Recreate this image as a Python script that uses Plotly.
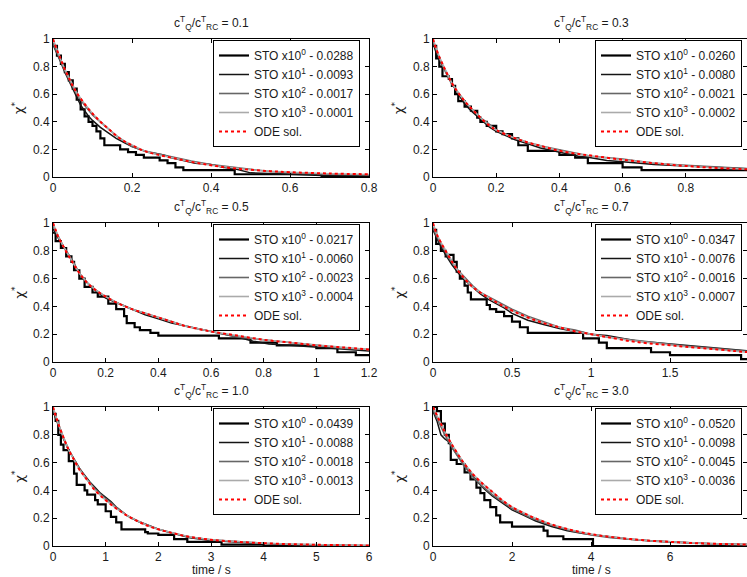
import plotly.graph_objects as go

W, H = 747, 577

# ---------------- data ----------------
RATIOS = ["0.1", "0.3", "0.5", "0.7", "1.0", "3.0"]
XMAX = [0.8, 1.0, 1.2, 2.0, 6.0, 8.0]
XTICKS = [[0, 0.2, 0.4, 0.6, 0.8], [0, 0.2, 0.4, 0.6, 0.8],
          [0, 0.2, 0.4, 0.6, 0.8, 1.0, 1.2], [0, 0.5, 1.0, 1.5],
          [0, 1, 2, 3, 4, 5, 6], [0, 2, 4, 6]]
XTICKTEXT = [["0", "0.2", "0.4", "0.6", "0.8"], ["0", "0.2", "0.4", "0.6", "0.8"],
             ["0", "0.2", "0.4", "0.6", "0.8", "1", "1.2"], ["0", "0.5", "1", "1.5"],
             ["0", "1", "2", "3", "4", "5", "6"], ["0", "2", "4", "6"]]
YTICKS = [0, 0.2, 0.4, 0.6, 0.8, 1.0]
YTICKTEXT = ["0", "0.2", "0.4", "0.6", "0.8", "1"]
ERRORS = [["0.0288", "0.0093", "0.0017", "0.0001"],
          ["0.0260", "0.0080", "0.0021", "0.0002"],
          ["0.0217", "0.0060", "0.0023", "0.0004"],
          ["0.0347", "0.0076", "0.0016", "0.0007"],
          ["0.0439", "0.0088", "0.0018", "0.0013"],
          ["0.0520", "0.0098", "0.0045", "0.0036"]]

# panel 1 (0.1)
P1_T = [0, 0.01, 0.02, 0.03, 0.04, 0.05, 0.06, 0.08, 0.10, 0.12, 0.14, 0.16, 0.18, 0.20, 0.23, 0.26, 0.30, 0.35, 0.40, 0.45, 0.50, 0.55, 0.60, 0.70, 0.80]
P1_ODE = [1.00, 0.92, 0.85, 0.78, 0.72, 0.66, 0.61, 0.53, 0.46, 0.40, 0.35, 0.30, 0.26, 0.23, 0.19, 0.165, 0.14, 0.11, 0.085, 0.065, 0.052, 0.042, 0.035, 0.025, 0.02]
P1_S3 = [1.00, 0.92, 0.85, 0.78, 0.72, 0.66, 0.61, 0.53, 0.46, 0.40, 0.35, 0.30, 0.26, 0.23, 0.19, 0.165, 0.14, 0.11, 0.085, 0.066, 0.052, 0.042, 0.034, 0.024, 0.018]
P1_S2 = [0.97, 0.90, 0.84, 0.77, 0.71, 0.65, 0.60, 0.52, 0.45, 0.40, 0.35, 0.30, 0.26, 0.22, 0.19, 0.17, 0.145, 0.115, 0.09, 0.07, 0.055, 0.04, 0.03, 0.02, 0.015]
P1_S1_T = [0, 0.01, 0.02, 0.03, 0.04, 0.05, 0.06, 0.07, 0.08, 0.09, 0.10, 0.12, 0.14, 0.16, 0.18, 0.20, 0.22, 0.24, 0.26, 0.28, 0.30, 0.33, 0.36, 0.40, 0.43, 0.46, 0.50, 0.60, 0.68, 0.80]
P1_S1 = [0.96, 0.90, 0.83, 0.76, 0.70, 0.64, 0.57, 0.52, 0.48, 0.44, 0.41, 0.36, 0.32, 0.28, 0.25, 0.22, 0.20, 0.18, 0.17, 0.16, 0.14, 0.12, 0.10, 0.09, 0.07, 0.06, 0.03, 0.02, 0.01, 0.01]
P1_S0_T = [0, 0.01, 0.02, 0.03, 0.04, 0.05, 0.06, 0.07, 0.08, 0.09, 0.10, 0.11, 0.12, 0.13, 0.17, 0.19, 0.21, 0.23, 0.27, 0.29, 0.31, 0.33, 0.46, 0.68, 0.80]
P1_S0 = [0.95, 0.88, 0.82, 0.76, 0.70, 0.64, 0.56, 0.49, 0.44, 0.40, 0.37, 0.33, 0.28, 0.23, 0.20, 0.18, 0.16, 0.14, 0.12, 0.10, 0.07, 0.05, 0.02, 0.005, 0.005]

# panel 2 (0.3)
P2_T = [0, 0.01, 0.02, 0.03, 0.04, 0.06, 0.08, 0.10, 0.12, 0.15, 0.18, 0.20, 0.25, 0.30, 0.35, 0.40, 0.45, 0.50, 0.60, 0.70, 0.80, 0.90, 1.00]
P2_ODE = [1.00, 0.93, 0.87, 0.82, 0.77, 0.68, 0.61, 0.55, 0.50, 0.43, 0.37, 0.34, 0.29, 0.25, 0.22, 0.19, 0.17, 0.155, 0.125, 0.10, 0.08, 0.065, 0.055]
P2_S3 = [1.00, 0.93, 0.87, 0.82, 0.77, 0.68, 0.61, 0.55, 0.50, 0.43, 0.37, 0.34, 0.29, 0.25, 0.22, 0.19, 0.17, 0.15, 0.125, 0.10, 0.08, 0.065, 0.055]
P2_S2 = [0.98, 0.92, 0.86, 0.81, 0.76, 0.67, 0.61, 0.55, 0.50, 0.43, 0.38, 0.34, 0.29, 0.25, 0.22, 0.195, 0.17, 0.15, 0.13, 0.10, 0.085, 0.07, 0.06]
P2_S1_T = [0, 0.01, 0.02, 0.04, 0.06, 0.08, 0.10, 0.12, 0.14, 0.16, 0.18, 0.20, 0.23, 0.26, 0.30, 0.34, 0.38, 0.42, 0.46, 0.50, 0.55, 0.60, 0.65, 0.70, 0.80, 0.90, 1.00]
P2_S1 = [0.97, 0.90, 0.85, 0.76, 0.68, 0.60, 0.53, 0.48, 0.44, 0.40, 0.36, 0.33, 0.30, 0.27, 0.24, 0.21, 0.19, 0.17, 0.15, 0.14, 0.12, 0.11, 0.10, 0.09, 0.08, 0.07, 0.06]
P2_S0_T = [0, 0.01, 0.02, 0.03, 0.05, 0.06, 0.07, 0.08, 0.10, 0.12, 0.14, 0.15, 0.17, 0.20, 0.22, 0.25, 0.27, 0.30, 0.40, 0.45, 0.49, 0.60, 0.66, 1.00]
P2_S0 = [0.95, 0.86, 0.80, 0.73, 0.71, 0.66, 0.60, 0.55, 0.51, 0.48, 0.43, 0.40, 0.37, 0.33, 0.31, 0.28, 0.23, 0.19, 0.16, 0.14, 0.10, 0.07, 0.05, 0.05]

# panel 3 (0.5)
P3_T = [0, 0.01, 0.02, 0.04, 0.06, 0.08, 0.10, 0.13, 0.16, 0.20, 0.25, 0.30, 0.35, 0.40, 0.45, 0.50, 0.60, 0.70, 0.80, 0.90, 1.00, 1.10, 1.20]
P3_ODE = [1.00, 0.95, 0.90, 0.83, 0.76, 0.70, 0.64, 0.57, 0.52, 0.47, 0.42, 0.38, 0.35, 0.32, 0.29, 0.26, 0.22, 0.19, 0.16, 0.14, 0.12, 0.105, 0.09]
P3_S3 = [1.00, 0.95, 0.90, 0.83, 0.76, 0.70, 0.64, 0.57, 0.52, 0.47, 0.42, 0.38, 0.35, 0.32, 0.29, 0.26, 0.22, 0.19, 0.16, 0.14, 0.12, 0.105, 0.09]
P3_S2 = [0.98, 0.94, 0.90, 0.83, 0.77, 0.71, 0.64, 0.57, 0.52, 0.47, 0.42, 0.38, 0.35, 0.32, 0.29, 0.26, 0.22, 0.18, 0.16, 0.14, 0.12, 0.10, 0.09]
P3_S1_T = [0, 0.01, 0.03, 0.05, 0.07, 0.09, 0.11, 0.14, 0.17, 0.20, 0.25, 0.30, 0.35, 0.40, 0.45, 0.50, 0.55, 0.60, 0.65, 0.70, 0.76, 0.82, 0.90, 0.98, 1.05, 1.12, 1.20]
P3_S1 = [0.96, 0.92, 0.86, 0.80, 0.74, 0.67, 0.61, 0.55, 0.50, 0.46, 0.42, 0.38, 0.34, 0.31, 0.28, 0.26, 0.24, 0.22, 0.20, 0.18, 0.15, 0.13, 0.12, 0.11, 0.10, 0.09, 0.08]
P3_S0_T = [0, 0.01, 0.03, 0.05, 0.07, 0.08, 0.10, 0.12, 0.15, 0.17, 0.21, 0.24, 0.27, 0.28, 0.31, 0.33, 0.37, 0.40, 0.63, 0.75, 0.85, 1.00, 1.08, 1.15, 1.20]
P3_S0 = [0.93, 0.87, 0.82, 0.76, 0.72, 0.66, 0.60, 0.54, 0.50, 0.47, 0.42, 0.38, 0.33, 0.28, 0.25, 0.23, 0.21, 0.19, 0.17, 0.14, 0.12, 0.10, 0.07, 0.05, 0.05]

# panel 4 (0.7)
P4_T = [0, 0.02, 0.05, 0.10, 0.15, 0.20, 0.25, 0.30, 0.40, 0.50, 0.60, 0.70, 0.80, 0.90, 1.00, 1.10, 1.25, 1.40, 1.50, 1.60, 1.75, 1.90, 2.00]
P4_ODE = [1.00, 0.93, 0.86, 0.76, 0.67, 0.60, 0.54, 0.50, 0.43, 0.37, 0.32, 0.28, 0.25, 0.22, 0.20, 0.18, 0.15, 0.13, 0.12, 0.11, 0.095, 0.08, 0.07]
P4_S3 = [1.00, 0.93, 0.86, 0.76, 0.67, 0.60, 0.54, 0.50, 0.43, 0.37, 0.32, 0.28, 0.25, 0.22, 0.20, 0.18, 0.155, 0.135, 0.12, 0.11, 0.095, 0.08, 0.07]
P4_S2 = [0.97, 0.91, 0.85, 0.75, 0.67, 0.61, 0.55, 0.50, 0.44, 0.38, 0.33, 0.29, 0.25, 0.23, 0.20, 0.18, 0.16, 0.14, 0.13, 0.115, 0.10, 0.085, 0.075]
P4_S1_T = [0, 0.02, 0.05, 0.08, 0.12, 0.16, 0.20, 0.25, 0.30, 0.35, 0.40, 0.45, 0.50, 0.60, 0.70, 0.80, 0.90, 1.00, 1.10, 1.20, 1.30, 1.40, 1.50, 1.60, 1.70, 1.80, 1.90, 2.00]
P4_S1 = [0.95, 0.90, 0.83, 0.77, 0.70, 0.64, 0.59, 0.54, 0.49, 0.45, 0.42, 0.39, 0.35, 0.30, 0.27, 0.24, 0.22, 0.20, 0.19, 0.17, 0.15, 0.14, 0.13, 0.12, 0.11, 0.10, 0.09, 0.08]
P4_S0_T = [0, 0.02, 0.05, 0.08, 0.10, 0.13, 0.15, 0.17, 0.20, 0.22, 0.24, 0.34, 0.36, 0.40, 0.45, 0.50, 0.55, 0.60, 0.95, 1.05, 1.10, 1.38, 1.50, 1.95, 2.00]
P4_S0 = [0.95, 0.85, 0.80, 0.76, 0.77, 0.72, 0.65, 0.60, 0.55, 0.50, 0.45, 0.41, 0.38, 0.36, 0.33, 0.29, 0.25, 0.21, 0.17, 0.14, 0.10, 0.07, 0.05, 0.02, 0.02]

# panel 5 (1.0)
P5_T = [0, 0.05, 0.1, 0.2, 0.3, 0.4, 0.5, 0.6, 0.8, 1.0, 1.2, 1.4, 1.6, 1.8, 2.0, 2.3, 2.6, 3.0, 3.5, 4.0, 4.5, 5.0, 5.5, 6.0]
P5_ODE = [1.00, 0.94, 0.88, 0.78, 0.69, 0.62, 0.55, 0.50, 0.40, 0.33, 0.27, 0.22, 0.18, 0.145, 0.12, 0.09, 0.065, 0.045, 0.03, 0.02, 0.013, 0.009, 0.006, 0.004]
P5_S3 = [1.00, 0.94, 0.88, 0.78, 0.69, 0.62, 0.55, 0.50, 0.40, 0.33, 0.27, 0.22, 0.18, 0.145, 0.12, 0.09, 0.065, 0.045, 0.03, 0.02, 0.013, 0.009, 0.006, 0.004]
P5_S2 = [0.98, 0.93, 0.87, 0.78, 0.69, 0.62, 0.56, 0.50, 0.41, 0.34, 0.28, 0.22, 0.18, 0.15, 0.12, 0.09, 0.065, 0.045, 0.03, 0.02, 0.013, 0.01, 0.006, 0.004]
P5_S1_T = [0, 0.05, 0.1, 0.2, 0.3, 0.4, 0.5, 0.6, 0.7, 0.8, 0.9, 1.0, 1.1, 1.2, 1.3, 1.4, 1.6, 1.8, 2.0, 2.3, 2.6, 3.0, 3.4, 3.8, 4.3, 5.2, 6.0]
P5_S1 = [0.97, 0.92, 0.86, 0.77, 0.69, 0.62, 0.56, 0.51, 0.46, 0.42, 0.38, 0.35, 0.32, 0.28, 0.25, 0.22, 0.18, 0.15, 0.12, 0.09, 0.06, 0.04, 0.03, 0.02, 0.01, 0.005, 0.0]
P5_S0_T = [0, 0.05, 0.1, 0.15, 0.2, 0.3, 0.4, 0.45, 0.6, 0.65, 0.8, 0.85, 1.0, 1.1, 1.2, 1.3, 1.75, 1.8, 2.0, 2.3, 2.55, 3.2, 4.0, 6.0]
P5_S0 = [0.95, 0.90, 0.80, 0.73, 0.69, 0.61, 0.52, 0.44, 0.40, 0.37, 0.33, 0.30, 0.25, 0.21, 0.17, 0.12, 0.10, 0.09, 0.08, 0.05, 0.03, 0.01, 0.0, 0.0]

# panel 6 (3.0)
P6_T = [0, 0.1, 0.2, 0.3, 0.5, 0.75, 1.0, 1.25, 1.5, 1.75, 2.0, 2.5, 3.0, 3.5, 4.0, 4.5, 5.0, 5.5, 6.0, 6.5, 7.0, 7.5, 8.0]
P6_ODE = [1.00, 0.94, 0.88, 0.82, 0.72, 0.61, 0.52, 0.45, 0.39, 0.33, 0.28, 0.21, 0.155, 0.115, 0.085, 0.065, 0.05, 0.038, 0.03, 0.022, 0.017, 0.013, 0.01]
P6_S3 = [1.00, 0.94, 0.88, 0.82, 0.72, 0.61, 0.52, 0.45, 0.39, 0.33, 0.28, 0.21, 0.155, 0.115, 0.085, 0.065, 0.05, 0.038, 0.03, 0.022, 0.017, 0.013, 0.01]
P6_S2 = [0.98, 0.92, 0.86, 0.80, 0.70, 0.59, 0.50, 0.43, 0.37, 0.32, 0.27, 0.20, 0.15, 0.11, 0.08, 0.06, 0.047, 0.036, 0.028, 0.021, 0.016, 0.012, 0.01]
P6_S1_T = [0, 0.1, 0.2, 0.3, 0.4, 0.5, 0.7, 0.9, 1.1, 1.3, 1.5, 1.75, 2.0, 2.3, 2.6, 3.0, 3.4, 3.8, 4.2, 4.6, 5.0, 5.5, 6.0, 6.5, 7.0, 7.5, 8.0]
P6_S1 = [0.97, 0.90, 0.80, 0.77, 0.75, 0.70, 0.62, 0.54, 0.47, 0.41, 0.36, 0.31, 0.26, 0.22, 0.18, 0.14, 0.11, 0.09, 0.075, 0.06, 0.048, 0.038, 0.03, 0.022, 0.016, 0.012, 0.01]
P6_S0_T = [0, 0.1, 0.2, 0.3, 0.4, 0.45, 0.6, 0.8, 0.95, 1.1, 1.2, 1.3, 1.45, 1.6, 1.7, 2.0, 2.8, 2.9, 3.3, 4.05, 8.0]
P6_S0 = [1.0, 0.97, 0.88, 0.80, 0.74, 0.62, 0.59, 0.53, 0.48, 0.42, 0.38, 0.33, 0.28, 0.22, 0.17, 0.14, 0.11, 0.07, 0.05, 0.0, 0.0]

PANELS = [
    (P1_T, P1_ODE, P1_S3, P1_S2, P1_S1_T, P1_S1, P1_S0_T, P1_S0),
    (P2_T, P2_ODE, P2_S3, P2_S2, P2_S1_T, P2_S1, P2_S0_T, P2_S0),
    (P3_T, P3_ODE, P3_S3, P3_S2, P3_S1_T, P3_S1, P3_S0_T, P3_S0),
    (P4_T, P4_ODE, P4_S3, P4_S2, P4_S1_T, P4_S1, P4_S0_T, P4_S0),
    (P5_T, P5_ODE, P5_S3, P5_S2, P5_S1_T, P5_S1, P5_S0_T, P5_S0),
    (P6_T, P6_ODE, P6_S3, P6_S2, P6_S1_T, P6_S1, P6_S0_T, P6_S0),
]

# ---------------- layout geometry (pixels) ----------------
COL_X = [(53, 369), (433, 747)]
COL_FULL_RIGHT = [369, 749]
ROW_Y = [(39, 177), (223, 362), (407, 546)]
RIGHT_FRAC = (747 - 433) / (749 - 433)  # right column is clipped at the image edge
LEG_LEFT = [213, 595]

FONT = "Liberation Sans, Arial, sans-serif"
TXT = "#1a1a1a"

fig = go.Figure()
annotations = []
layout = dict(
    width=W, height=H, margin=dict(l=0, r=0, t=0, b=0),
    paper_bgcolor="white", plot_bgcolor="white",
    font=dict(family=FONT, size=12, color=TXT),
)

for i in range(6):
    row, col = divmod(i, 2)
    x0, x1 = COL_X[col]
    ytop, ybot = ROW_Y[row]
    ax = "" if i == 0 else str(i + 1)
    xa, ya = "x" + ax, "y" + ax
    leg = "legend" + ax
    T, ODE, S3, S2, S1T, S1, S0T, S0 = PANELS[i]
    err = ERRORS[i]

    styles = [
        (S0T, S0, "hv", dict(color="black", width=2.2), f"STO x10<sup>0</sup> - {err[0]}"),
        (S1T, S1, "linear", dict(color="#141414", width=1.5), f"STO x10<sup>1</sup> - {err[1]}"),
        (T, S2, "linear", dict(color="#666666", width=1.6), f"STO x10<sup>2</sup> - {err[2]}"),
        (T, S3, "linear", dict(color="#aaaaaa", width=1.6), f"STO x10<sup>3</sup> - {err[3]}"),
        (T, ODE, "spline", dict(color="#ff0000", width=2, dash="dot"), "ODE sol."),
    ]
    for xs, ys, shape, line, name in styles:
        fig.add_trace(go.Scatter(x=xs, y=ys, mode="lines", line=line, line_shape=shape,
                                 name=name, xaxis=xa, yaxis=ya, legend=leg,
                                 hoverinfo="skip"))

    xmax = XMAX[i] * (RIGHT_FRAC if col == 1 else 1.0)
    common = dict(showline=True, linecolor="black", linewidth=1, mirror="ticks",
                  ticks="inside", ticklen=4, tickcolor="black", showgrid=False,
                  zeroline=False, tickfont=dict(family=FONT, size=12, color=TXT),
                  automargin=False)
    layout["xaxis" + ax] = dict(common, domain=[x0 / W, x1 / W], range=[0, xmax], anchor=ya,
                                tickvals=XTICKS[i], ticktext=XTICKTEXT[i])
    layout["yaxis" + ax] = dict(common, domain=[1 - ybot / H, 1 - ytop / H], range=[0, 1],
                                anchor=xa, tickvals=YTICKS, ticktext=YTICKTEXT)

    layout[leg] = dict(x=LEG_LEFT[col] / W, y=1 - (ytop + 1) / H, xanchor="left", yanchor="top",
                       bgcolor="white", bordercolor="black", borderwidth=1,
                       font=dict(family=FONT, size=12, color=TXT), itemwidth=30,
                       tracegroupgap=0)

    cx = (x0 + COL_FULL_RIGHT[col]) / 2
    annotations.append(dict(
        text=f"c<sup>T</sup><sub>Q</sub>/c<sup>T</sup><sub>RC</sub> = {RATIOS[i]}",
        x=cx / W, y=1 - (ytop - 16) / H, xref="paper", yref="paper",
        xanchor="center", yanchor="middle", showarrow=False,
        font=dict(family=FONT, size=12, color=TXT)))
    # y-axis title
    annotations.append(dict(
        text="χ<sup>*</sup>", textangle=-90,
        x=(x0 - 35) / W, y=1 - ((ytop + ybot) / 2) / H, xref="paper", yref="paper",
        xanchor="center", yanchor="middle", showarrow=False,
        font=dict(family="DejaVu Sans, sans-serif", size=13, color=TXT)))
    if row == 2:
        annotations.append(dict(
            text="time / s", x=cx / W, y=1 - 570 / H,
            xref="paper", yref="paper", xanchor="center", yanchor="middle",
            showarrow=False, font=dict(family=FONT, size=12, color=TXT)))

layout["annotations"] = annotations
fig.update_layout(**layout)
fig.write_html("out.html", config={"displayModeBar": False},
               post_script="document.body.style.margin='0px';document.body.style.padding='0px';")
